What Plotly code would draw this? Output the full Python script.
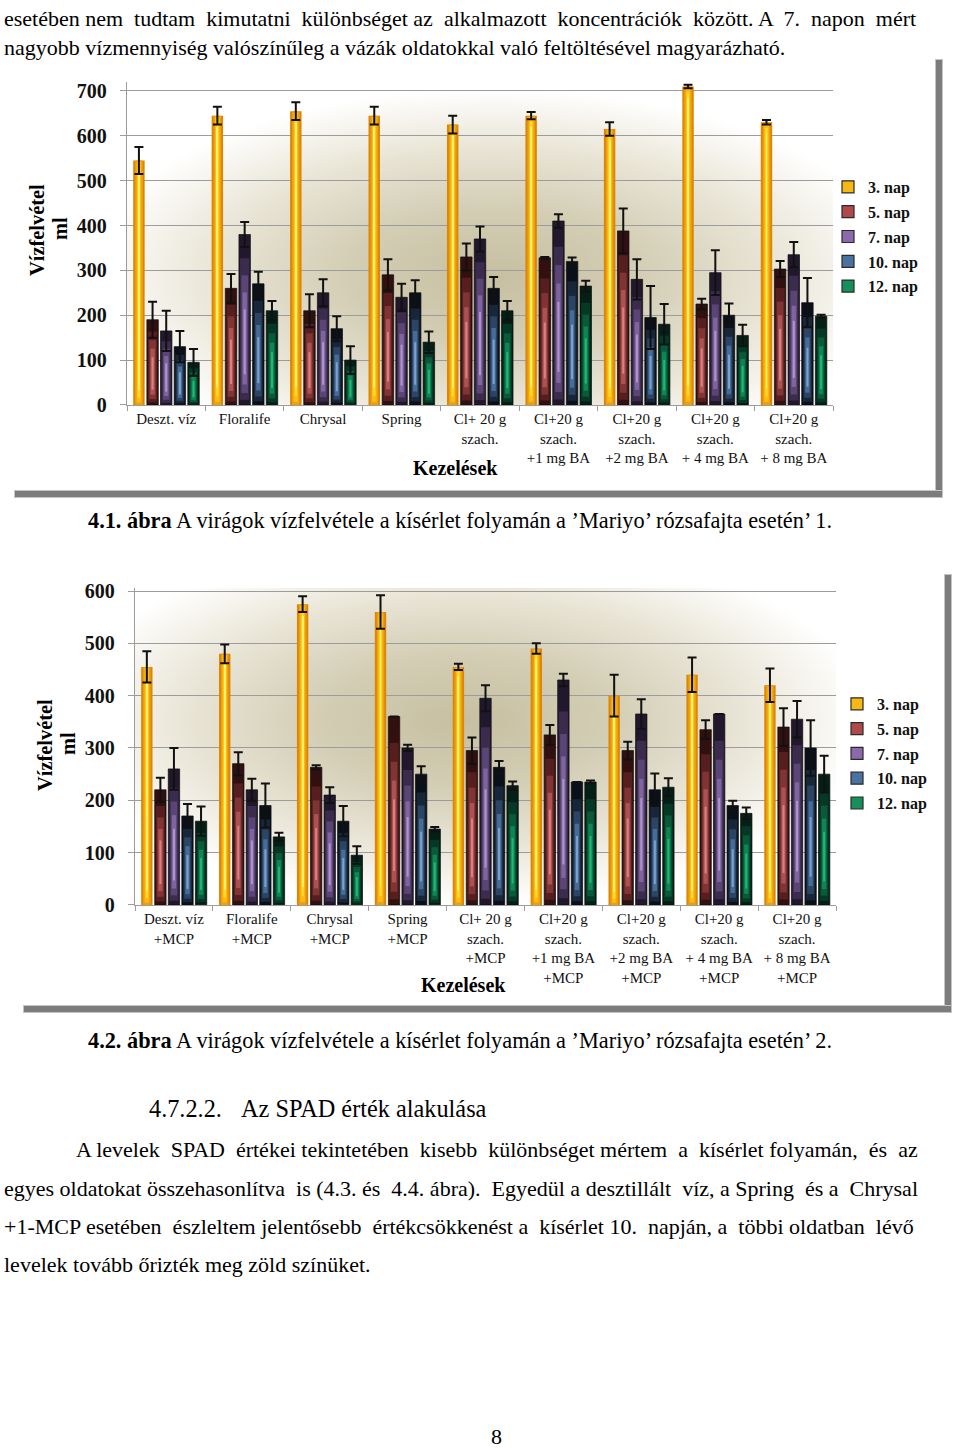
import base64
import plotly.graph_objects as go

W, H = 960, 1448
SERIF = "Liberation Serif, Times New Roman, serif"
# measured vertical placement of the figure in the photographed page
Y_OFF, Y_SCALE = 8.0, 0.987

# ---------------- data ----------------
series = ["3. nap", "5. nap", "7. nap", "10. nap", "12. nap"]

cats1 = ["Deszt. víz", "Floralife", "Chrysal", "Spring", "Cl+ 20 g<br>szach.",
         "Cl+20 g<br>szach.<br>+1 mg BA", "Cl+20 g<br>szach.<br>+2 mg BA",
         "Cl+20 g<br>szach.<br>+ 4 mg BA", "Cl+20 g<br>szach.<br>+ 8 mg BA"]
cats2 = ["Deszt. víz<br>+MCP", "Floralife<br>+MCP", "Chrysal<br>+MCP", "Spring<br>+MCP",
         "Cl+ 20 g<br>szach.<br>+MCP", "Cl+20 g<br>szach.<br>+1 mg BA<br>+MCP",
         "Cl+20 g<br>szach.<br>+2 mg BA<br>+MCP", "Cl+20 g<br>szach.<br>+ 4 mg BA<br>+MCP",
         "Cl+20 g<br>szach.<br>+ 8 mg BA<br>+MCP"]

# chart 1 (4.1. ábra)
c1_nap3 = [545, 645, 655, 645, 625, 645, 615, 710, 630]
c1_nap3_err = [30, 20, 20, 20, 20, 8, 15, 4, 5]
c1_nap5 = [190, 260, 210, 290, 330, 328, 388, 225, 303]
c1_nap5_err = [40, 32, 37, 35, 30, 2, 50, 12, 18]
c1_nap7 = [165, 380, 250, 240, 370, 410, 280, 295, 335]
c1_nap7_err = [45, 28, 30, 30, 28, 15, 45, 50, 28]
c1_nap10 = [130, 270, 170, 250, 260, 320, 195, 200, 228]
c1_nap10_err = [35, 27, 28, 28, 25, 9, 70, 26, 55]
c1_nap12 = [95, 210, 100, 140, 210, 265, 180, 155, 198]
c1_nap12_err = [30, 22, 31, 24, 22, 12, 45, 24, 3]

# chart 2 (4.2. ábra)
c2_nap3 = [455, 480, 575, 560, 455, 490, 400, 440, 420]
c2_nap3_err = [30, 18, 15, 32, 6, 10, 40, 33, 32]
c2_nap5 = [220, 270, 263, 360, 295, 325, 295, 335, 340]
c2_nap5_err = [23, 22, 4, None, 25, 19, 17, 18, 36]
c2_nap7 = [260, 220, 210, 300, 395, 430, 365, 365, 355]
c2_nap7_err = [40, 21, 15, 6, 25, 12, 28, None, 35]
c2_nap10 = [170, 190, 160, 250, 263, 235, 220, 190, 300]
c2_nap10_err = [23, 42, 29, 15, 12, None, 31, 9, 53]
c2_nap12 = [160, 130, 95, 145, 228, 235, 225, 175, 250]
c2_nap12_err = [28, 8, 17, 4, 8, 3, 17, 11, 35]

y1_ticks = [0, 100, 200, 300, 400, 500, 600, 700]
y2_ticks = [0, 100, 200, 300, 400, 500, 600]

chart1_vals = [c1_nap3, c1_nap5, c1_nap7, c1_nap10, c1_nap12]
chart1_errs = [c1_nap3_err, c1_nap5_err, c1_nap7_err, c1_nap10_err, c1_nap12_err]
chart2_vals = [c2_nap3, c2_nap5, c2_nap7, c2_nap10, c2_nap12]
chart2_errs = [c2_nap3_err, c2_nap5_err, c2_nap7_err, c2_nap10_err, c2_nap12_err]

# ---------------- styles ----------------
# (width fraction, bottom fraction, top fraction, colour)
layers = [
    [(1.0, 0.0, 1.0, "#dc8608"), (0.66, 0.0, 1.0, "#ee9f0e"), (0.4, 0.01, 0.995, "#f9bd16"),
     (0.2, 0.03, 0.98, "#ffd928"), (0.08, 0.06, 0.96, "#fff06a")],
    [(1.0, 0.0, 1.0, "#321010"), (0.8, 0.03, 0.86, "#561e1e"), (0.58, 0.07, 0.76, "#803434"),
     (0.38, 0.12, 0.66, "#ad5252"), (0.18, 0.18, 0.56, "#d98080")],
    [(1.0, 0.0, 1.0, "#21182d"), (0.8, 0.03, 0.86, "#3b2c4e"), (0.58, 0.07, 0.76, "#5a4574"),
     (0.38, 0.12, 0.66, "#7e659e"), (0.18, 0.18, 0.56, "#ae93cc")],
    [(1.0, 0.0, 1.0, "#0a1019"), (0.8, 0.03, 0.86, "#18263a"), (0.58, 0.07, 0.76, "#2c4564"),
     (0.38, 0.12, 0.66, "#466c98"), (0.18, 0.18, 0.56, "#7aa2cc")],
    [(1.0, 0.0, 1.0, "#031f16"), (0.8, 0.03, 0.86, "#063826"), (0.58, 0.07, 0.76, "#0a5a3a"),
     (0.38, 0.12, 0.66, "#0f8553"), (0.18, 0.18, 0.56, "#22b573")],
]
legend_colors = ["#f7b814", "#b04a4a", "#8a6aab", "#4a72a0", "#15905a"]

GROUP = 0.87
SLOT = GROUP / 5
BW = 0.146


def fx(px):
    return px / W


def fy(py):
    return 1 - ((py - Y_OFF) / Y_SCALE) / H


def hy(dpy):
    return (dpy / Y_SCALE) / H


fig = go.Figure()


def add_chart(cats, vals_list, errs_list, xa, ya, legend_name, gid):
    for i, (name, vals, errs) in enumerate(zip(series, vals_list, errs_list)):
        off0 = -GROUP / 2 + i * SLOT + (SLOT - BW) / 2
        for k, (wf, b, t, col) in enumerate(layers[i]):
            w = BW * wf
            off = off0 + (BW - w) / 2
            fig.add_trace(go.Bar(
                x=cats, y=[v * (t - b) for v in vals], base=[v * b for v in vals],
                offset=off, width=w, name=name,
                marker=dict(color=col,
                            line=dict(width=0.7 if (k == 0 and i > 0) else 0, color="#0d0d0d")),
                xaxis=xa, yaxis=ya, legend=legend_name,
                legendgroup=gid + name, showlegend=False,
                hoverinfo="skip",
            ))
        # top trace: full value, transparent fill, error bars
        fig.add_trace(go.Bar(
            x=cats, y=vals, offset=off0, width=BW, name=name,
            marker=dict(color="rgba(0,0,0,0)", line=dict(width=0)),
            error_y=dict(type="data", array=errs, color="#111111", thickness=2, width=4.5),
            xaxis=xa, yaxis=ya, legend=legend_name, legendgroup=gid + name,
            showlegend=False, hovertemplate="%{y}<extra>" + name + "</extra>",
        ))
        # legend swatch
        fig.add_trace(go.Bar(
            x=[None], y=[None], name=name,
            marker=dict(color=legend_colors[i], line=dict(width=1.2, color="#2a2a2a")),
            xaxis=xa, yaxis=ya, legend=legend_name, legendgroup=gid + name,
            showlegend=True, hoverinfo="skip",
        ))


add_chart(cats1, chart1_vals, chart1_errs, "x", "y", "legend", "a")
add_chart(cats2, chart2_vals, chart2_errs, "x2", "y2", "legend2", "b")

# ---------------- background gradients ----------------

def grad_svg(cx, cy, r):
    svg = (
        '<svg xmlns="http://www.w3.org/2000/svg" width="700" height="320" viewBox="0 0 700 320" '
        'preserveAspectRatio="none"><defs><radialGradient id="g" cx="%s" cy="%s" r="%s">'
        '<stop offset="0" stop-color="#c6bfa1"/><stop offset="0.35" stop-color="#d3cdb4"/>'
        '<stop offset="0.7" stop-color="#eae6d8"/><stop offset="1" stop-color="#ffffff"/>'
        '</radialGradient></defs><rect width="700" height="320" fill="url(#g)"/></svg>'
    ) % (cx, cy, r)
    return "data:image/svg+xml;base64," + base64.b64encode(svg.encode()).decode()


P1 = dict(l=127, r=833, t=82, b=405)
P2 = dict(l=135, r=836, t=588, b=905)

images = [
    dict(source=grad_svg(0.52, 0.6, 0.58), xref="paper", yref="paper",
         x=fx(P1["l"]), y=fy(P1["t"]), sizex=(P1["r"] - P1["l"]) / W, sizey=hy(P1["b"] - P1["t"]),
         sizing="stretch", layer="below", xanchor="left", yanchor="top"),
    dict(source=grad_svg(0.47, 0.42, 0.58), xref="paper", yref="paper",
         x=fx(P2["l"]), y=fy(P2["t"]), sizex=(P2["r"] - P2["l"]) / W, sizey=hy(P2["b"] - P2["t"]),
         sizing="stretch", layer="below", xanchor="left", yanchor="top"),
]

# ---------------- frame shadows ----------------
shapes = []
for (x0, y0, x1, y1) in [(936, 60, 942, 497), (15, 491, 942, 497),
                         (945, 575, 951, 1012), (24, 1006, 951, 1012)]:
    shapes.append(dict(type="rect", xref="paper", yref="paper",
                       x0=fx(x0 - 1), x1=fx(x1 + 1), y0=fy(y1 + 1), y1=fy(y0 - 1),
                       fillcolor="#c4c4c4", line=dict(width=0), layer="below"))
    shapes.append(dict(type="rect", xref="paper", yref="paper",
                       x0=fx(x0), x1=fx(x1), y0=fy(y1), y1=fy(y0),
                       fillcolor="#7c7c7c", line=dict(width=0), layer="below"))

# ---------------- axes ----------------
grid = "#9c9c9c"
common_x = dict(type="category", showline=True, linecolor=grid, linewidth=1.3,
                ticks="outside", tickson="boundaries", ticklen=5, tickcolor=grid,
                showgrid=False, tickangle=0,
                tickfont=dict(family=SERIF, size=15, color="#111111"),
                fixedrange=True)
common_y = dict(showline=True, linecolor=grid, linewidth=1.3, ticks="outside", ticklen=6,
                tickcolor=grid, showgrid=True, gridcolor=grid, gridwidth=1.3, zeroline=False,
                tickfont=dict(family=SERIF, size=20, color="#111111"), ticklabelstandoff=9,
                fixedrange=True)

fig.update_layout(
    width=W, height=H, autosize=False,
    margin=dict(l=0, r=0, t=0, b=0),
    paper_bgcolor="white", plot_bgcolor="rgba(0,0,0,0)",
    barmode="overlay",
    xaxis=dict(common_x, domain=[fx(P1["l"]), fx(P1["r"])], anchor="y"),
    yaxis=dict(common_y, domain=[fy(P1["b"]), fy(P1["t"])], range=[0, 720],
               tickvals=y1_ticks, ticktext=["<b>%d</b>" % v for v in y1_ticks], anchor="x"),
    xaxis2=dict(common_x, domain=[fx(P2["l"]), fx(P2["r"])], anchor="y2"),
    yaxis2=dict(common_y, domain=[fy(P2["b"]), fy(P2["t"])], range=[0, 606],
                tickvals=y2_ticks, ticktext=["<b>%d</b>" % v for v in y2_ticks], anchor="x2"),
    legend=dict(x=fx(828), y=fy(170), xanchor="left", yanchor="top", bgcolor="rgba(0,0,0,0)",
                font=dict(family=SERIF, size=16, color="#111111", weight="bold"),
                tracegroupgap=1, itemwidth=30),
    legend2=dict(x=fx(837), y=fy(687), xanchor="left", yanchor="top", bgcolor="rgba(0,0,0,0)",
                 font=dict(family=SERIF, size=16, color="#111111", weight="bold"),
                 tracegroupgap=1, itemwidth=30),
    images=images, shapes=shapes, showlegend=True,
)

# ---------------- texts ----------------
ann = []
NB = "\u00a0"


def justify(s, n):
    words = s.split(" ")
    gaps = len(words) - 1
    out = words[0]
    for g in range(gaps):
        extra = (n * (g + 1)) // gaps - (n * g) // gaps
        out += " " + NB * extra + words[g + 1]
    return out


def txt(s, x, y, size=22, xanchor="left", bold=False, angle=0, align="left"):
    ann.append(dict(text=("<b>%s</b>" % s) if bold else s, x=fx(x), y=fy(y),
                    xref="paper", yref="paper", xanchor=xanchor, yanchor="middle",
                    showarrow=False, textangle=angle, align=align, borderpad=0,
                    font=dict(family=SERIF, size=size, color="black")))


txt(justify("esetében nem tudtam kimutatni különbséget az alkalmazott koncentrációk között. A 7. napon mért", 9), 3, 19)
txt("nagyobb vízmennyiség valószínűleg a vázák oldatokkal való feltöltésével magyarázható.", 3, 48)

txt("Vízfelvétel", 37, 230, size=20.4, xanchor="center", bold=True, angle=-90)
txt("ml", 60, 229, size=20.4, xanchor="center", bold=True, angle=-90)
txt("Kezelések", 455, 468, size=20, xanchor="center", bold=True)
txt("<b>4.1. ábra</b> A virágok vízfelvétele a kísérlet folyamán a ’Mariyo’ rózsafajta esetén’ 1.",
    460, 521, size=22.3, xanchor="center")

txt("Vízfelvétel", 45, 745, size=20.4, xanchor="center", bold=True, angle=-90)
txt("ml", 68, 744, size=20.4, xanchor="center", bold=True, angle=-90)
txt("Kezelések", 463, 985, size=20, xanchor="center", bold=True)
txt("<b>4.2. ábra</b> A virágok vízfelvétele a kísérlet folyamán a ’Mariyo’ rózsafajta esetén’ 2.",
    460, 1041, size=22.3, xanchor="center")

txt("4.7.2.2.", 148, 1109, size=24.3)
txt("Az SPAD érték alakulása", 240, 1109, size=24.3)
txt(justify("A levelek SPAD értékei tekintetében kisebb különbséget mértem a kísérlet folyamán, és az", 8), 75, 1150)
txt(justify("egyes oldatokat összehasonlítva is (4.3. és 4.4. ábra). Egyedül a desztillált víz, a Spring és a Chrysal", 6), 3, 1189)
txt(justify("+1-MCP esetében észleltem jelentősebb értékcsökkenést a kísérlet 10. napján, a többi oldatban lévő", 6), 3, 1227)
txt("levelek tovább őrizték meg zöld színüket.", 3, 1265)
txt("8", 496, 1437, xanchor="center")

fig.update_layout(annotations=ann)

fig.write_html(
    "out.html",
    config={"displayModeBar": False},
    post_script=(
        "var d=document.getElementById('{plot_id}');"
        "d.style.position='fixed';d.style.top='0px';d.style.left='0px';"
        "document.documentElement.style.margin='0';document.documentElement.style.overflow='hidden';"
        "document.body.style.margin='0';document.body.style.padding='0';"
        "document.body.style.overflow='hidden';"
    ),
)
